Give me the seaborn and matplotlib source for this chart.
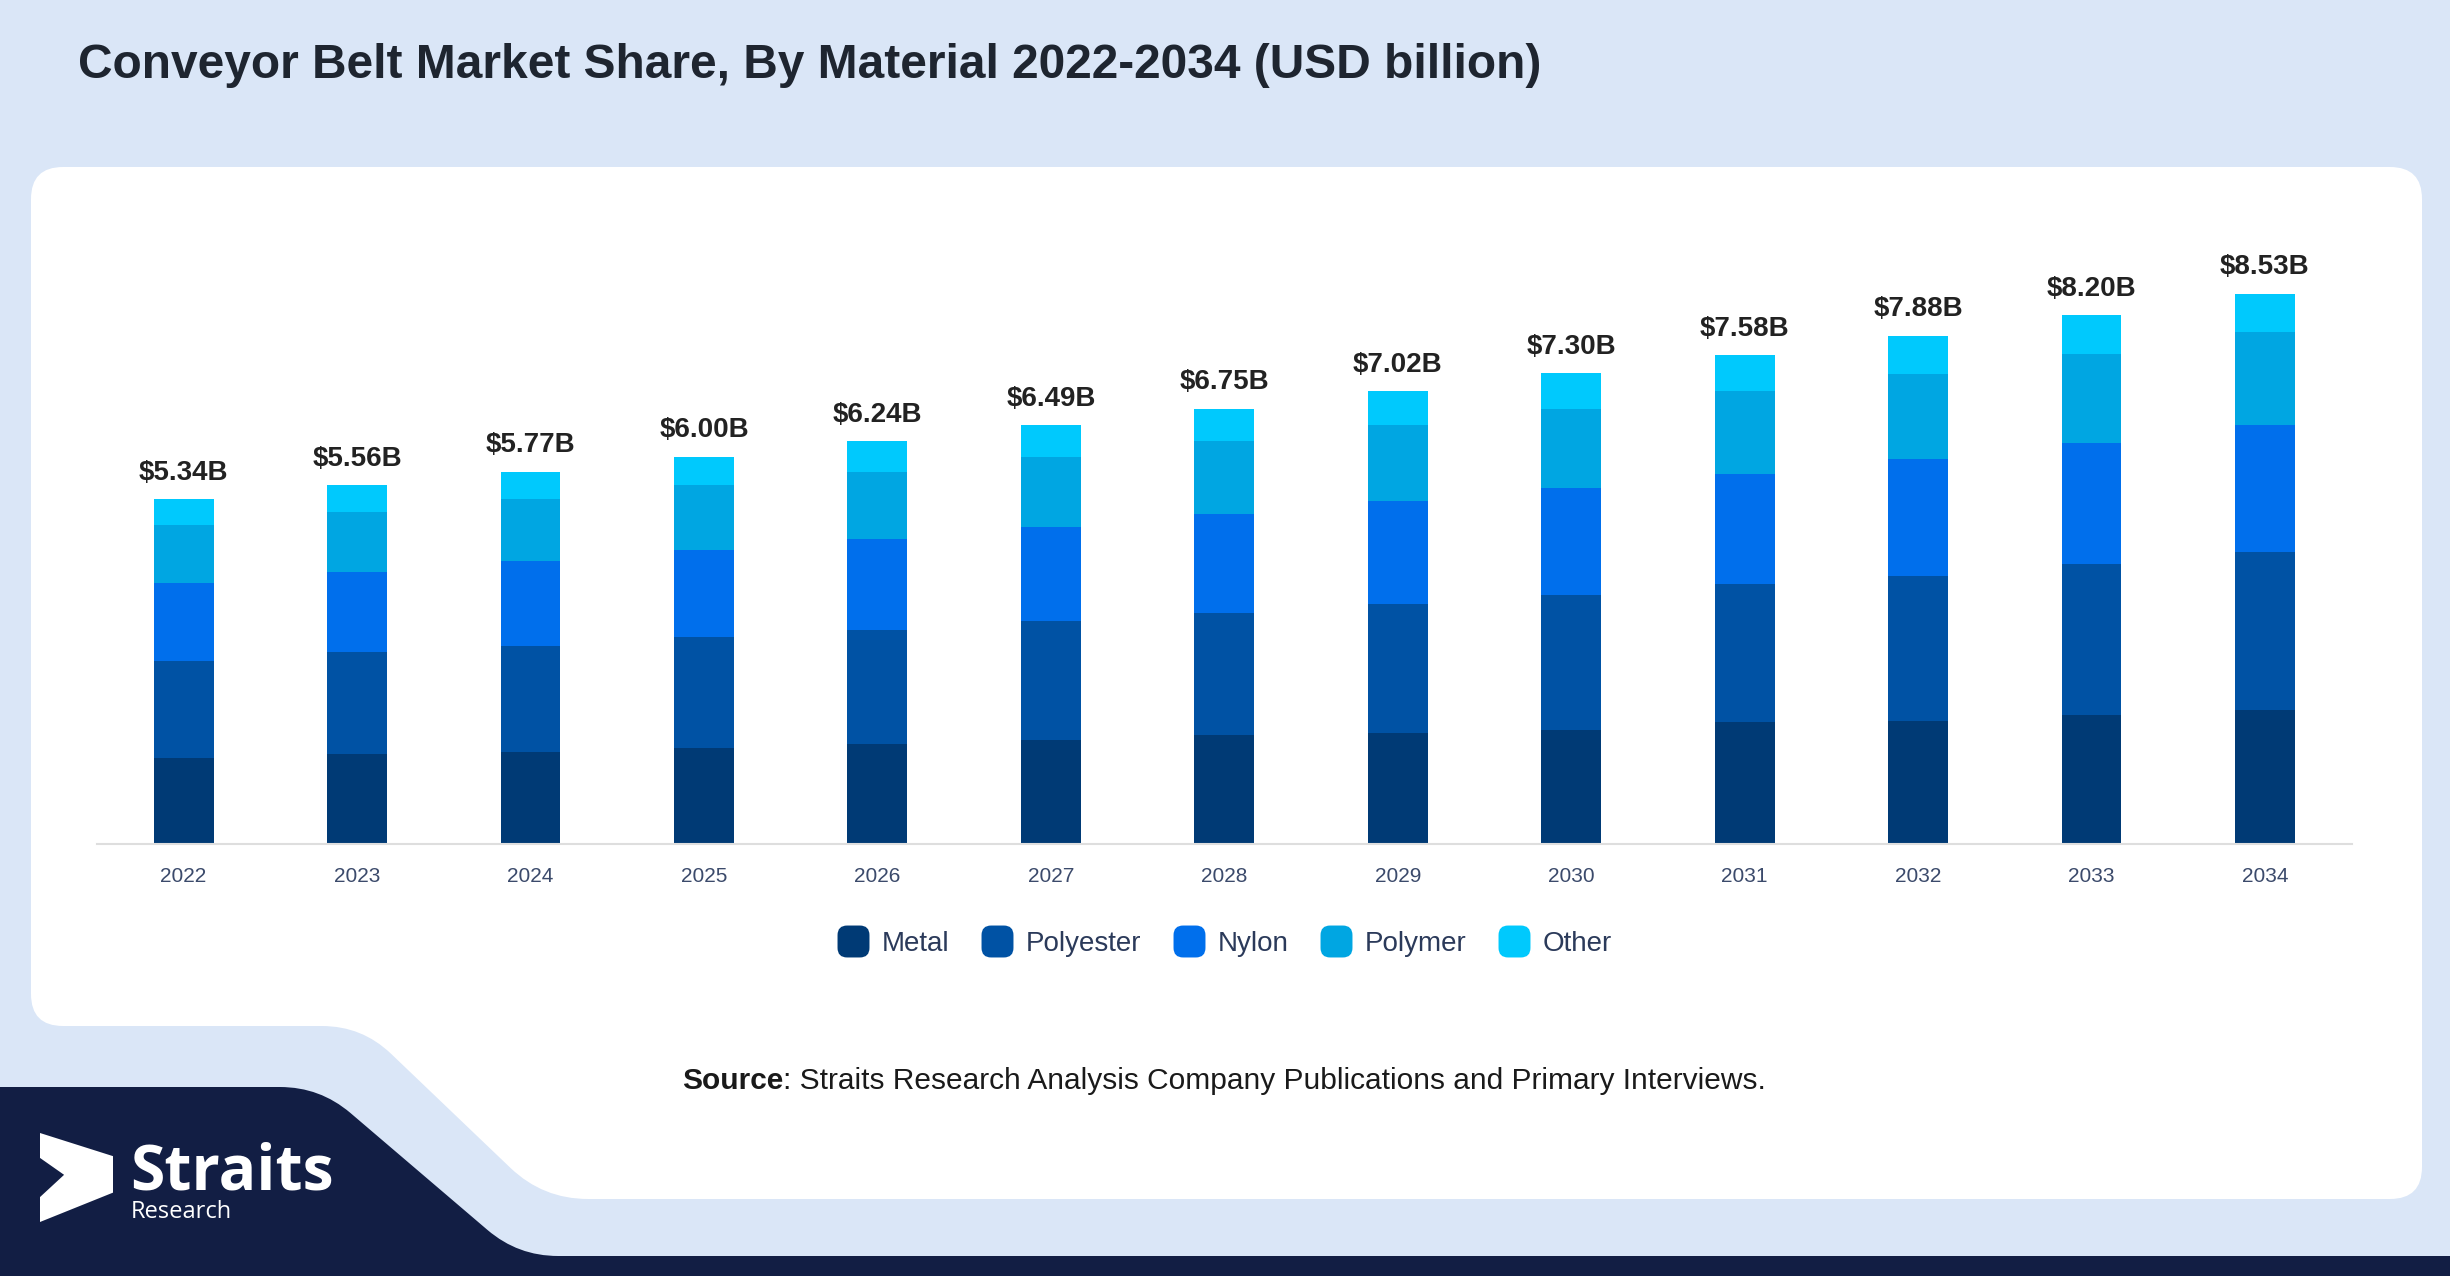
import matplotlib
matplotlib.use('Agg')
import matplotlib.pyplot as plt
import seaborn as sns
import numpy as np
from matplotlib.path import Path
from matplotlib.patches import PathPatch, Polygon, FancyBboxPatch
from matplotlib.lines import Line2D

# data (USD billion)
years = ['2022', '2023', '2024', '2025', '2026', '2027', '2028',
         '2029', '2030', '2031', '2032', '2033', '2034']
metal = [1.33, 1.39, 1.42, 1.49, 1.54, 1.61, 1.68, 1.72, 1.77, 1.88, 1.90, 2.00, 2.08]
polyester = [1.51, 1.58, 1.64, 1.71, 1.78, 1.85, 1.90, 2.00, 2.09, 2.15, 2.26, 2.34, 2.45]
nylon = [1.21, 1.25, 1.32, 1.35, 1.41, 1.46, 1.54, 1.59, 1.66, 1.70, 1.80, 1.87, 1.96]
polymer = [0.90, 0.93, 0.96, 1.01, 1.03, 1.08, 1.13, 1.18, 1.22, 1.29, 1.32, 1.39, 1.44]
other = [0.39, 0.41, 0.43, 0.44, 0.48, 0.49, 0.50, 0.53, 0.56, 0.56, 0.60, 0.60, 0.60]
totals = [5.34, 5.56, 5.77, 6.00, 6.24, 6.49, 6.75, 7.02, 7.30, 7.58, 7.88, 8.20, 8.53]

materials = ['Metal', 'Polyester', 'Nylon', 'Polymer', 'Other']
series = [metal, polyester, nylon, polymer, other]
colors = ['#003a75', '#0052a4', '#006fec', '#00a6e2', '#00c9fd']

W, H = 2450, 1276

sns.set_theme(style='white')
plt.rcParams['font.family'] = ['Liberation Sans', 'DejaVu Sans']

fig = plt.figure(figsize=(W / 100, H / 100), dpi=100)
fig.patch.set_facecolor('#dae6f7')


def fx(x):
    return x / W


def fy(y):
    return 1 - y / H


def rounded_path(points, radii):
    # polygon in pixel coords (y down) with rounded corners
    verts, codes = [], []
    n = len(points)
    for i in range(n):
        p0 = np.array(points[i - 1], float)
        p1 = np.array(points[i], float)
        p2 = np.array(points[(i + 1) % n], float)
        l1 = np.linalg.norm(p0 - p1)
        l2 = np.linalg.norm(p2 - p1)
        r = min(radii[i], l1 / 2, l2 / 2)
        a = p1 + (p0 - p1) / l1 * r
        b = p1 + (p2 - p1) / l2 * r
        verts += [a, p1, b]
        codes += [Path.MOVETO if i == 0 else Path.LINETO, Path.CURVE3, Path.CURVE3]
    verts.append(verts[0])
    codes.append(Path.CLOSEPOLY)
    verts = [(fx(v[0]), fy(v[1])) for v in verts]
    return Path(verts, codes)


# white card with the notch at bottom left
card = [(31, 167), (2422, 167), (2422, 1199), (543, 1199), (362, 1026), (31, 1026)]
fig.patches.append(PathPatch(rounded_path(card, [32, 32, 32, 45, 40, 32]),
                             facecolor='white', edgecolor='none',
                             transform=fig.transFigure, zorder=-2))

# dark navy footer
navy = [(-20, 1087), (320, 1087), (518, 1256), (2470, 1256), (2470, 1300), (-20, 1300)]
fig.patches.append(PathPatch(rounded_path(navy, [0, 40, 40, 0, 0, 0]),
                             facecolor='#121e44', edgecolor='none',
                             transform=fig.transFigure, zorder=-2))

# logo arrow
ax0, ay0, aw, ah = 40, 1133, 73, 89
arrow_rel = [(0, 0), (1, 0.26), (1, 0.67), (0, 1), (0, 0.72), (0.33, 0.47), (0, 0.28)]
arrow = [(fx(ax0 + rx * aw), fy(ay0 + ry * ah)) for rx, ry in arrow_rel]
fig.patches.append(Polygon(arrow, closed=True, facecolor='white', edgecolor='none',
                           transform=fig.transFigure, zorder=-1))
fig.text(fx(130), fy(1190), 'Straits', fontsize=45, fontweight='bold',
         family=['Open Sans', 'DejaVu Sans'], color='white', va='baseline', ha='left')
fig.text(fx(131), fy(1218), 'Research', fontsize=17,
         family=['Open Sans', 'DejaVu Sans'], color='white', va='baseline', ha='left')

# title
fig.text(fx(78), fy(66), 'Conveyor Belt Market Share, By Material 2022-2034 (USD billion)',
         ha='left', va='center', fontsize=34.5, fontweight='bold', color='#1e2530')

# chart
ax = fig.add_axes([0.03955, 0.3388, 0.9203, 0.5052])
ax.set_facecolor('none')

bottom = np.zeros(len(years))
for name, vals, col in zip(materials, series, colors):
    sns.barplot(x=years, y=vals, color=col, bottom=bottom, width=0.345,
                saturation=1, errorbar=None, linewidth=0, ax=ax)
    bottom = bottom + np.array(vals)

for i, t in enumerate(totals):
    ax.annotate(f'${t:.2f}B', (i, t), xytext=(0, 14), textcoords='offset points',
                ha='center', va='baseline', fontsize=20, fontweight='bold', color='#222222')

ax.set_xlim(-0.5, len(years) - 0.5)
ax.set_ylim(0, 10)
ax.set_yticks([])
ax.set_xlabel('')
ax.set_ylabel('')
ax.tick_params(axis='x', length=0, pad=17, labelsize=15, labelcolor='#3b4a6b')
for s in ['left', 'top', 'right']:
    ax.spines[s].set_visible(False)
ax.spines['bottom'].set_color('#dedede')
ax.spines['bottom'].set_linewidth(1.5)

# legend with rounded squares
box = FancyBboxPatch((-0.5, -0.5), 1, 1, boxstyle='round,pad=0,rounding_size=0.3')
marker_path = box.get_path()
handles = [Line2D([], [], linestyle='none', marker=marker_path, markersize=23,
                  markerfacecolor=c, markeredgecolor='none') for c in colors]
fig.legend(handles, materials, loc='center', bbox_to_anchor=(0.4998, 0.2605), ncol=5,
           frameon=False, fontsize=20, labelcolor='#2b3a5a', handlelength=1.15,
           handletextpad=0.45, columnspacing=1.15)

# source line
fig.text(fx(783), fy(1081), 'Source', ha='right', va='center', fontsize=21.5,
         fontweight='bold', color='#1a1a1a')
fig.text(fx(783), fy(1081), ': Straits Research Analysis Company Publications and Primary Interviews.',
         ha='left', va='center', fontsize=21.5, color='#1a1a1a')

fig.savefig('out.png', dpi=100)
